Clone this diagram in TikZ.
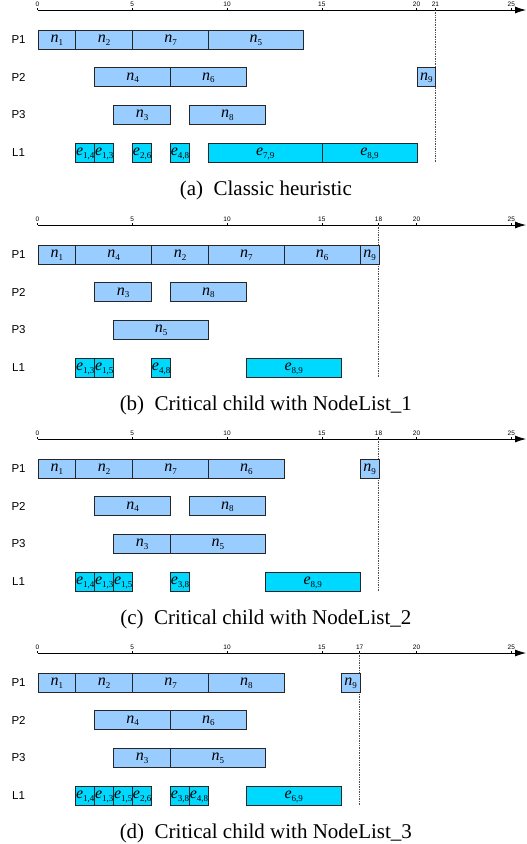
\documentclass[tikz,border=0pt]{standalone}
\usepackage{fontspec}
\setmainfont{Liberation Serif}
\setsansfont{Liberation Sans}
\usepackage{tikz}
\usetikzlibrary{arrows.meta}

\definecolor{jobblue}{RGB}{153,204,255}
\definecolor{msgcyan}{RGB}{0,217,255}

\newcommand{\lbl}[2]{\textit{#1}\raisebox{-2.5pt}{\fontsize{9}{9}\selectfont #2}}

\tikzset{
  job/.style={draw=black!85, line width=0.8pt, fill=jobblue, anchor=west,
    minimum height=19pt, minimum width=#1*18.95pt, inner sep=0pt,
    text height=7.5pt, text depth=0.7pt, font=\fontsize{16}{16}\selectfont},
  msg/.style={job=#1, fill=msgcyan},
  rowlbl/.style={font=\sffamily\fontsize{11.5}{12}\selectfont},
  ticklbl/.style={font=\sffamily\fontsize{6.5}{6.5}\selectfont, inner sep=0.5pt, above},
  timeaxis/.style={line width=0.8pt, -{Latex[length=11pt,width=7pt]}},
  mkline/.style={densely dotted, black!70, line width=0.7pt},
  captxt/.style={font=\fontsize{21}{22}\selectfont}
}

\begin{document}
\begin{tikzpicture}[x=18.95pt, y=-1pt]
    \useasboundingbox (-1.979,0) rectangle (25.83,844);

    \begin{scope}[yshift=-10pt]
    \coordinate (a-o) at (0,0);
    \coordinate (a-end) at (25.78,0);
    \draw[timeaxis] (a-o) -- (a-end);
    \foreach \t in {0,5,10,15,20,21,25} \draw (\t,0) -- (\t,-2.5) node[ticklbl] {\t};
    \coordinate (a-ms) at (21,0);
    \draw[mkline] (a-ms) -- ++(0,152);
    \node[rowlbl] (a-P1) at (-1,29.5) {P1};
    \node[rowlbl] (a-P2) at (-1,67) {P2};
    \node[rowlbl] (a-P3) at (-1,104.5) {P3};
    \node[rowlbl] (a-L1) at (-1,142.5) {L1};
    \node[job=2] (a-n1) at (0,29.5) {\lbl{n}{1}};
    \node[job=3] (a-n2) at (2,29.5) {\lbl{n}{2}};
    \node[job=4] (a-n7) at (5,29.5) {\lbl{n}{7}};
    \node[job=5] (a-n5) at (9,29.5) {\lbl{n}{5}};
    \node[job=4] (a-n4) at (3,67) {\lbl{n}{4}};
    \node[job=4] (a-n6) at (7,67) {\lbl{n}{6}};
    \node[job=1] (a-n9) at (20,67) {\lbl{n}{9}};
    \node[job=3] (a-n3) at (4,104.5) {\lbl{n}{3}};
    \node[job=4] (a-n8) at (8,104.5) {\lbl{n}{8}};
    \node[msg=1] (a-e14) at (2,142.5) {\lbl{e}{1,4}};
    \node[msg=1] (a-e13) at (3,142.5) {\lbl{e}{1,3}};
    \node[msg=1] (a-e26) at (5,142.5) {\lbl{e}{2,6}};
    \node[msg=1] (a-e48) at (7,142.5) {\lbl{e}{4,8}};
    \node[msg=6] (a-e79) at (9,142.5) {\lbl{e}{7,9}};
    \node[msg=5] (a-e89) at (15,142.5) {\lbl{e}{8,9}};
    \node[captxt] (a-cap) at (12.05,180) {(a)\enspace Classic heuristic};
    \end{scope}

    \begin{scope}[yshift=-225pt]
    \coordinate (b-o) at (0,0);
    \coordinate (b-end) at (25.78,0);
    \draw[timeaxis] (b-o) -- (b-end);
    \foreach \t in {0,5,10,15,18,20,25} \draw (\t,0) -- (\t,-2.5) node[ticklbl] {\t};
    \coordinate (b-ms) at (18,0);
    \draw[mkline] (b-ms) -- ++(0,152);
    \node[rowlbl] (b-P1) at (-1,29.5) {P1};
    \node[rowlbl] (b-P2) at (-1,67) {P2};
    \node[rowlbl] (b-P3) at (-1,104.5) {P3};
    \node[rowlbl] (b-L1) at (-1,142.5) {L1};
    \node[job=2] (b-n1) at (0,29.5) {\lbl{n}{1}};
    \node[job=4] (b-n4) at (2,29.5) {\lbl{n}{4}};
    \node[job=3] (b-n2) at (6,29.5) {\lbl{n}{2}};
    \node[job=4] (b-n7) at (9,29.5) {\lbl{n}{7}};
    \node[job=4] (b-n6) at (13,29.5) {\lbl{n}{6}};
    \node[job=1] (b-n9) at (17,29.5) {\lbl{n}{9}};
    \node[job=3] (b-n3) at (3,67) {\lbl{n}{3}};
    \node[job=4] (b-n8) at (7,67) {\lbl{n}{8}};
    \node[job=5] (b-n5) at (4,104.5) {\lbl{n}{5}};
    \node[msg=1] (b-e13) at (2,142.5) {\lbl{e}{1,3}};
    \node[msg=1] (b-e15) at (3,142.5) {\lbl{e}{1,5}};
    \node[msg=1] (b-e48) at (6,142.5) {\lbl{e}{4,8}};
    \node[msg=5] (b-e89) at (11,142.5) {\lbl{e}{8,9}};
    \node[captxt] (b-cap) at (12.05,180) {(b)\enspace Critical child with NodeList\_1};
    \end{scope}

    \begin{scope}[yshift=-439pt]
    \coordinate (c-o) at (0,0);
    \coordinate (c-end) at (25.78,0);
    \draw[timeaxis] (c-o) -- (c-end);
    \foreach \t in {0,5,10,15,18,20,25} \draw (\t,0) -- (\t,-2.5) node[ticklbl] {\t};
    \coordinate (c-ms) at (18,0);
    \draw[mkline] (c-ms) -- ++(0,152);
    \node[rowlbl] (c-P1) at (-1,29.5) {P1};
    \node[rowlbl] (c-P2) at (-1,67) {P2};
    \node[rowlbl] (c-P3) at (-1,104.5) {P3};
    \node[rowlbl] (c-L1) at (-1,142.5) {L1};
    \node[job=2] (c-n1) at (0,29.5) {\lbl{n}{1}};
    \node[job=3] (c-n2) at (2,29.5) {\lbl{n}{2}};
    \node[job=4] (c-n7) at (5,29.5) {\lbl{n}{7}};
    \node[job=4] (c-n6) at (9,29.5) {\lbl{n}{6}};
    \node[job=1] (c-n9) at (17,29.5) {\lbl{n}{9}};
    \node[job=4] (c-n4) at (3,67) {\lbl{n}{4}};
    \node[job=4] (c-n8) at (8,67) {\lbl{n}{8}};
    \node[job=3] (c-n3) at (4,104.5) {\lbl{n}{3}};
    \node[job=5] (c-n5) at (7,104.5) {\lbl{n}{5}};
    \node[msg=1] (c-e14) at (2,142.5) {\lbl{e}{1,4}};
    \node[msg=1] (c-e13) at (3,142.5) {\lbl{e}{1,3}};
    \node[msg=1] (c-e15) at (4,142.5) {\lbl{e}{1,5}};
    \node[msg=1] (c-e38) at (7,142.5) {\lbl{e}{3,8}};
    \node[msg=5] (c-e89) at (12,142.5) {\lbl{e}{8,9}};
    \node[captxt] (c-cap) at (12.05,180) {(c)\enspace Critical child with NodeList\_2};
    \end{scope}

    \begin{scope}[yshift=-653pt]
    \coordinate (d-o) at (0,0);
    \coordinate (d-end) at (25.78,0);
    \draw[timeaxis] (d-o) -- (d-end);
    \foreach \t in {0,5,10,15,17,20,25} \draw (\t,0) -- (\t,-2.5) node[ticklbl] {\t};
    \coordinate (d-ms) at (17,0);
    \draw[mkline] (d-ms) -- ++(0,152);
    \node[rowlbl] (d-P1) at (-1,29.5) {P1};
    \node[rowlbl] (d-P2) at (-1,67) {P2};
    \node[rowlbl] (d-P3) at (-1,104.5) {P3};
    \node[rowlbl] (d-L1) at (-1,142.5) {L1};
    \node[job=2] (d-n1) at (0,29.5) {\lbl{n}{1}};
    \node[job=3] (d-n2) at (2,29.5) {\lbl{n}{2}};
    \node[job=4] (d-n7) at (5,29.5) {\lbl{n}{7}};
    \node[job=4] (d-n8) at (9,29.5) {\lbl{n}{8}};
    \node[job=1] (d-n9) at (16,29.5) {\lbl{n}{9}};
    \node[job=4] (d-n4) at (3,67) {\lbl{n}{4}};
    \node[job=4] (d-n6) at (7,67) {\lbl{n}{6}};
    \node[job=3] (d-n3) at (4,104.5) {\lbl{n}{3}};
    \node[job=5] (d-n5) at (7,104.5) {\lbl{n}{5}};
    \node[msg=1] (d-e14) at (2,142.5) {\lbl{e}{1,4}};
    \node[msg=1] (d-e13) at (3,142.5) {\lbl{e}{1,3}};
    \node[msg=1] (d-e15) at (4,142.5) {\lbl{e}{1,5}};
    \node[msg=1] (d-e26) at (5,142.5) {\lbl{e}{2,6}};
    \node[msg=1] (d-e38) at (7,142.5) {\lbl{e}{3,8}};
    \node[msg=1] (d-e48) at (8,142.5) {\lbl{e}{4,8}};
    \node[msg=5] (d-e69) at (11,142.5) {\lbl{e}{6,9}};
    \node[captxt] (d-cap) at (12.05,180) {(d)\enspace Critical child with NodeList\_3};
    \end{scope}
\end{tikzpicture}
\end{document}
